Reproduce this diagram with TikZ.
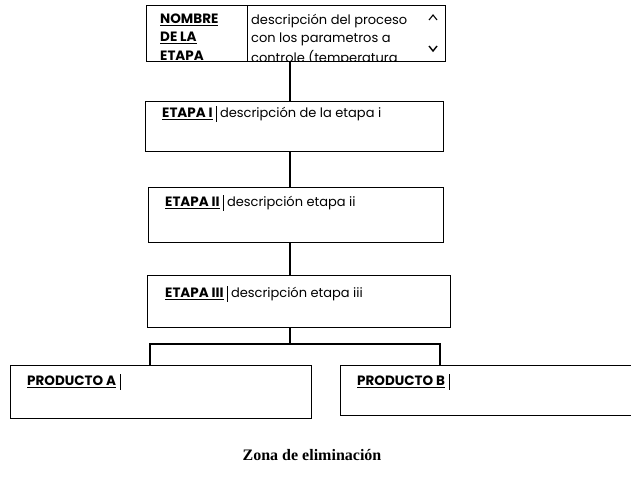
\documentclass[tikz,border=0pt]{standalone}
\usepackage{fontspec}
\setmainfont{Poppins}
\newfontfamily\zonafont{Liberation Serif}
\begin{document}
\begin{tikzpicture}[x=1pt,y=-1pt,
  box/.style={draw=black, line width=1.3pt, anchor=north west, inner sep=0pt},
  conn/.style={draw=black, line width=2.8pt},
  lbl/.style={anchor=west, inner sep=0pt, font=\fontsize{13.5}{16}\selectfont\bfseries},
  desc/.style={anchor=west, inner sep=0pt, font=\fontsize{13}{15}\selectfont},
  cursorbar/.style={draw=black, line width=0.9pt},
  divider/.style={draw=black, line width=0.8pt}]
\useasboundingbox (0,0) rectangle (631,488);

% boxes
\node[box, minimum width=299pt, minimum height=56pt] (top) at (146,5) {};
\node[box, minimum width=298pt, minimum height=50pt] (s1) at (145,101) {};
\node[box, minimum width=295pt, minimum height=55pt] (s2) at (148,187) {};
\node[box, minimum width=303pt, minimum height=52pt] (s3) at (147,275) {};
\node[box, minimum width=301pt, minimum height=53pt] (pa) at (10,365) {};
\node[box, minimum width=300pt, minimum height=50pt] (pb) at (340,365) {};

% top box contents (clipped)
\coordinate (dv) at (247,0);
\draw[divider] (top.north -| dv) -- (top.south -| dv);
\begin{scope}
\clip (146,5) rectangle (445,61);
\node[lbl] (n1) at (160,20) {\underline{NOMBRE}};
\node[lbl] (n2) at (160,38) {\underline{DE LA}};
\node[lbl] (n3) at (160,57) {\underline{ETAPA}};
\node[desc] (d1) at (251,21) {descripción del proceso};
\node[desc] (d2) at (251,39) {con los parametros a};
\node[desc] (d3) at (251,58) {controle (temperatura};
\end{scope}
% scroll arrows
\draw[line width=1.1pt] (429,20) -- (433,15) -- (437,20);
\draw[line width=1.4pt] (429,46) -- (433,51) -- (437,46);

% stage labels
\node[lbl] (l1) at (162,114) {\underline{ETAPA I}};
\draw[cursorbar] ([xshift=4pt]l1.east) ++(0,-8) coordinate (c1) -- ++(0,16);
\node[desc] (t1) at ([xshift=3pt]c1) [yshift=-8pt] {descripción de la etapa i};

\node[lbl] (l2) at (165,203) {\underline{ETAPA II}};
\draw[cursorbar] ([xshift=4pt]l2.east) ++(0,-8) coordinate (c2) -- ++(0,16);
\node[desc] (t2) at ([xshift=3pt]c2) [yshift=-8pt] {descripción etapa ii};

\node[lbl] (l3) at (165,294) {\underline{ETAPA III}};
\draw[cursorbar] ([xshift=4pt]l3.east) ++(0,-8) coordinate (c3) -- ++(0,16);
\node[desc] (t3) at ([xshift=3pt]c3) [yshift=-8pt] {descripción etapa iii};

\node[lbl] (la) at (27,382) {\underline{PRODUCTO A}};
\draw[cursorbar] ([xshift=4pt]la.east) ++(0,-8) -- ++(0,16);

\node[lbl] (lb) at (357,382) {\underline{PRODUCTO B}};
\draw[cursorbar] ([xshift=4pt]lb.east) ++(0,-8) -- ++(0,16);

% connectors
\coordinate (vx) at (290,0);
\coordinate (bl) at (150,344);
\coordinate (br) at (440,344);
\draw[conn] (top.south -| vx) -- (s1.north -| vx);
\draw[conn] (s1.south -| vx) -- (s2.north -| vx);
\draw[conn] (s2.south -| vx) -- (s3.north -| vx);
\draw[conn] (s3.south -| vx) -- (bl -| vx);
\draw[conn] (pa.north -| bl) -- (bl) -- (br) -- (pb.north -| br);

% footer
\node[font=\zonafont\fontsize{16}{18}\selectfont\bfseries, inner sep=0pt] (zona) at (312,455) {Zona de eliminación};
\end{tikzpicture}
\end{document}
